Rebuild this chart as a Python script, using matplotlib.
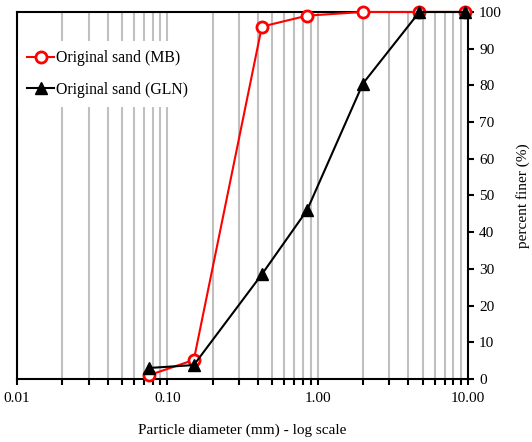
import matplotlib
matplotlib.use("Agg")
import matplotlib.pyplot as plt
from matplotlib.ticker import LogLocator, FixedLocator, NullFormatter, FixedFormatter

plt.rcParams['font.family'] = ['Liberation Serif', 'DejaVu Serif']

sizes = [0.075, 0.15, 0.425, 0.85, 2.0, 4.75, 9.5]
mb = [1.0, 5.2, 96.0, 99.0, 100.0, 100.0, 100.0]
gln = [3.0, 3.8, 28.5, 46.0, 80.5, 100.0, 100.0]
xticks = [0.01, 0.1, 1.0, 10.0]
xticklabels = ["0.01", "0.10", "1.00", "10.00"]
yticks = list(range(0, 101, 10))

fig = plt.figure(figsize=(5.32, 4.42), dpi=100)
ax = fig.add_axes([0.032, 0.1425, 0.8477, 0.8304])

ax.set_xscale('log')
ax.set_xlim(0.01, 10)
ax.set_ylim(0, 100)

ax.plot(sizes, mb, color='red', lw=1.5, marker='o', ms=8, mfc='white',
        mec='red', mew=2, label='Original sand (MB)', zorder=3, clip_on=False)
ax.plot(sizes, gln, color='black', lw=1.5, marker='^', ms=8, mfc='black',
        mec='black', label='Original sand (GLN)', zorder=4, clip_on=False)

ax.xaxis.set_major_locator(FixedLocator(xticks))
ax.xaxis.set_major_formatter(FixedFormatter(xticklabels))
ax.xaxis.set_minor_locator(LogLocator(base=10, subs=range(2, 10)))
ax.xaxis.set_minor_formatter(NullFormatter())
ax.grid(True, which='both', axis='x', color='#c0c0c0', lw=1.5)
ax.set_axisbelow(True)

ax.yaxis.tick_right()
ax.yaxis.set_label_position('right')
ax.set_yticks(yticks)
ax.tick_params(axis='y', which='both', direction='out', length=4, width=1.5, labelsize=11, pad=4)
ax.tick_params(axis='x', which='both', direction='out', length=4, width=1.5, labelsize=11, pad=5)

for s in ax.spines.values():
    s.set_linewidth(1.5)

ax.set_xlabel('Particle diameter (mm) - log scale', fontsize=11, labelpad=14)
ax.set_ylabel('percent finer (%)', fontsize=11, labelpad=10)

leg = ax.legend(loc='upper left', bbox_to_anchor=(-0.005, 0.93), frameon=True,
                facecolor='white', edgecolor='none', framealpha=1, fancybox=False,
                fontsize=11.3, handlelength=1.7, handletextpad=0.1, labelspacing=1.0,
                borderpad=0.6, borderaxespad=0.2)

fig.savefig('out.png', dpi=100)
